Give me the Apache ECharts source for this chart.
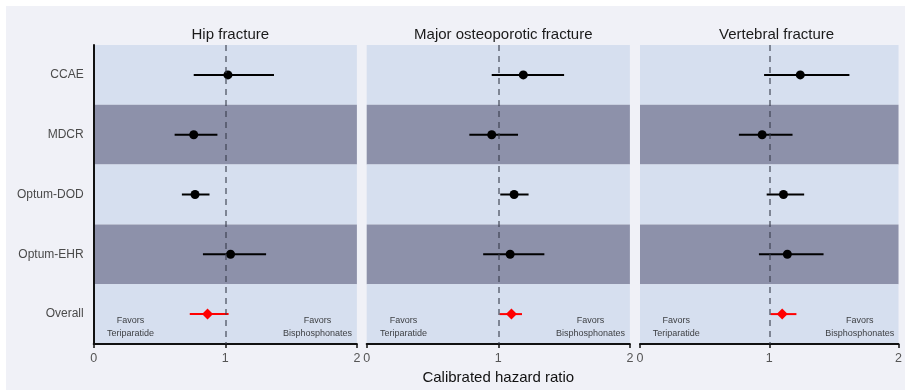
<!DOCTYPE html>
<html>
<head>
<meta charset="utf-8">
<script src="https://cdn.jsdelivr.net/npm/echarts@6/dist/echarts.min.js"></script>
<style>
  html, body { margin: 0; padding: 0; background: #ffffff; }
  #chart { width: 905px; height: 390px; }
</style>
</head>
<body>
<div id="chart"></div>
<script>
// Data sources (rows, top to bottom) and outcomes (panels, left to right)
const sources = ['CCAE', 'MDCR', 'Optum-DOD', 'Optum-EHR', 'Overall'];
const outcomes = ['Hip fracture', 'Major osteoporotic fracture', 'Vertebral fracture'];
const xTicks = [0, 1, 2];

// Calibrated hazard ratios with 95% CI, one array per outcome
const hipHr  = [1.02, 0.76, 0.77, 1.04, 0.865];
const hipLo  = [0.76, 0.615, 0.67, 0.83, 0.73];
const hipHi  = [1.37, 0.94, 0.88, 1.31, 1.025];

const mofHr  = [1.19, 0.95, 1.12, 1.09, 1.10];
const mofLo  = [0.95, 0.78, 1.015, 0.885, 1.01];
const mofHi  = [1.50, 1.15, 1.23, 1.35, 1.18];

const vertHr = [1.24, 0.945, 1.11, 1.14, 1.10];
const vertLo = [0.96, 0.765, 0.98, 0.92, 1.01];
const vertHi = [1.62, 1.18, 1.27, 1.42, 1.21];

// Annotation text positions on the hazard-ratio scale
const favorsLeft = { x: 0.28, text: 'Favors\nTeriparatide' };
const favorsRight = { x: 1.70, text: 'Favors\nBisphosphonates' };

const panelHr = [hipHr, mofHr, vertHr];
const panelLo = [hipLo, mofLo, vertLo];
const panelHi = [hipHi, mofHi, vertHi];

const LIGHT = '#d6dfef';
const DARK = '#8d91aa';
const BG = '#f0f1f7';
const FONT = '"Liberation Sans", Arial, Helvetica, sans-serif';

const gridLefts = [93.7, 366.7, 640];
const gridWidth = 263.2;
const gridTop = 45;
const gridHeight = 299;

const grids = [], xAxes = [], yAxes = [], series = [], titles = [];

outcomes.forEach((name, p) => {
  grids.push({ left: gridLefts[p], top: gridTop, width: gridWidth, height: gridHeight });
  titles.push({
    text: name,
    left: gridLefts[p] + gridWidth / 2,
    top: 22,
    textAlign: 'center',
    textStyle: { fontFamily: FONT, fontSize: 15, fontWeight: 'normal', color: '#1a1a1a' }
  });
  xAxes.push({
    type: 'value', gridIndex: p, min: xTicks[0], max: xTicks[xTicks.length - 1], interval: 1,
    axisLine: { show: true, lineStyle: { color: '#111', width: 2 } },
    axisTick: { show: true, length: 4, lineStyle: { color: '#111', width: 1.5 } },
    axisLabel: { fontFamily: FONT, fontSize: 12.5, color: '#555', margin: 8 },
    splitLine: { show: false },
    name: p === 1 ? 'Calibrated hazard ratio' : '',
    nameLocation: 'middle',
    nameGap: 25,
    nameTextStyle: { fontFamily: FONT, fontSize: 15, color: '#111' }
  });
  yAxes.push({
    type: 'category', gridIndex: p, data: sources, inverse: true,
    axisLine: { show: p === 0, lineStyle: { color: '#111', width: 2 } },
    axisTick: { show: false },
    axisLabel: { show: p === 0, fontFamily: FONT, fontSize: 12, color: '#4a4a4a', margin: 10 },
    splitLine: { show: false },
    splitArea: { show: true, areaStyle: { color: [LIGHT, DARK] } }
  });

  // Reference line at HR = 1
  series.push({
    type: 'line', xAxisIndex: p, yAxisIndex: p, data: [], z: 1,
    markLine: {
      silent: true, symbol: 'none', label: { show: false },
      lineStyle: { color: 'rgba(55,58,72,0.55)', width: 2, type: [6, 5] },
      data: [{ xAxis: 1 }]
    }
  });

  // Confidence interval whiskers
  const ciData = sources.map((s, i) => [panelLo[p][i], panelHi[p][i], s]);
  series.push({
    type: 'custom', xAxisIndex: p, yAxisIndex: p, z: 3,
    data: ciData,
    encode: { x: [0, 1], y: 2 },
    renderItem: (params, api) => {
      const a = api.coord([api.value(0), api.value(2)]);
      const b = api.coord([api.value(1), api.value(2)]);
      const isOverall = sources[params.dataIndex] === 'Overall';
      return {
        type: 'line',
        shape: { x1: a[0], y1: a[1], x2: b[0], y2: b[1] },
        style: { stroke: isOverall ? '#ff0000' : '#000', lineWidth: 2 }
      };
    }
  });

  // Point estimates
  series.push({
    type: 'scatter', xAxisIndex: p, yAxisIndex: p, z: 4,
    itemStyle: { opacity: 1 },
    data: sources.map((s, i) => {
      const overall = s === 'Overall';
      return {
        value: [panelHr[p][i], s],
        symbol: overall ? 'diamond' : 'circle',
        symbolSize: overall ? 11 : 9,
        itemStyle: { color: overall ? '#ff0000' : '#000', opacity: 1 }
      };
    })
  });

  // Direction annotations in the pooled row
  series.push({
    type: 'scatter', xAxisIndex: p, yAxisIndex: p, z: 5, symbolSize: 0, silent: true,
    data: [favorsLeft, favorsRight].map(f => ({ value: [f.x, 'Overall'], name: f.text })),
    label: {
      show: true, position: 'inside', offset: [0, 13],
      formatter: d => d.name,
      fontFamily: FONT, fontSize: 9, lineHeight: 12.5, color: '#111', align: 'center'
    }
  });
});

const chart = echarts.init(document.getElementById('chart'), null, { renderer: 'canvas' });
chart.setOption({
  backgroundColor: 'transparent',
  animation: false,
  graphic: [{
    type: 'rect', z: -10, silent: true,
    shape: { x: 6, y: 6, width: 899, height: 384 },
    style: { fill: BG }
  }],
  title: titles,
  grid: grids,
  xAxis: xAxes,
  yAxis: yAxes,
  series: series
});
</script>
</body>
</html>
